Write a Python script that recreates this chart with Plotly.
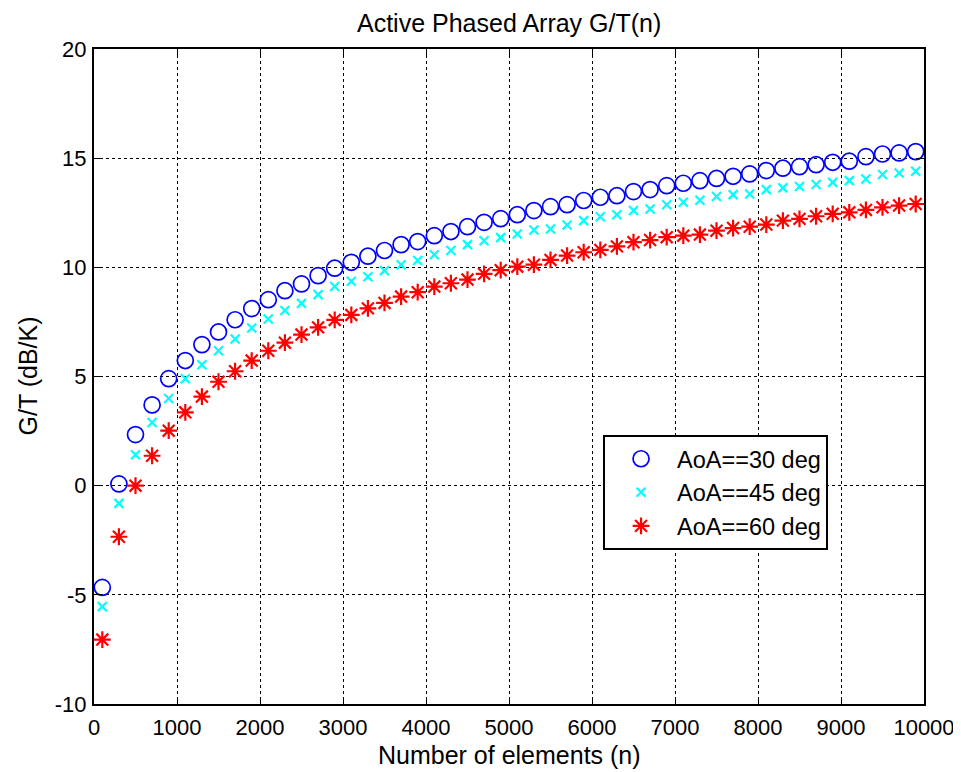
import plotly.graph_objects as go

n_elements = list(range(100, 10000, 200))

gt_aoa30 = [-4.66, 0.08, 2.34, 3.70, 4.90, 5.73, 6.46, 7.04, 7.60, 8.11,
            8.52, 8.93, 9.24, 9.62, 9.96, 10.23, 10.51, 10.77, 11.04, 11.18,
            11.45, 11.64, 11.86, 12.06, 12.23, 12.41, 12.60, 12.78, 12.87, 13.06,
            13.21, 13.28, 13.47, 13.56, 13.74, 13.85, 13.97, 14.07, 14.17, 14.28,
            14.43, 14.54, 14.61, 14.70, 14.81, 14.86, 15.07, 15.19, 15.24, 15.30]

gt_aoa45 = [-5.54, -0.81, 1.42, 2.89, 3.99, 4.90, 5.54, 6.18, 6.72, 7.22,
            7.63, 8.02, 8.35, 8.75, 9.12, 9.36, 9.57, 9.85, 10.12, 10.31,
            10.58, 10.77, 11.04, 11.22, 11.36, 11.53, 11.71, 11.76, 11.94, 12.14,
            12.32, 12.41, 12.60, 12.67, 12.87, 12.98, 13.07, 13.24, 13.33, 13.36,
            13.56, 13.64, 13.70, 13.79, 13.89, 13.97, 14.05, 14.25, 14.32, 14.40]

gt_aoa60 = [-7.05, -2.34, 0.00, 1.37, 2.52, 3.36, 4.08, 4.76, 5.24, 5.73,
            6.18, 6.55, 6.92, 7.25, 7.59, 7.82, 8.12, 8.37, 8.66, 8.86,
            9.12, 9.27, 9.44, 9.70, 9.87, 10.03, 10.12, 10.34, 10.54, 10.69,
            10.80, 10.96, 11.15, 11.25, 11.38, 11.45, 11.50, 11.68, 11.80, 11.86,
            11.96, 12.14, 12.22, 12.34, 12.45, 12.52, 12.63, 12.75, 12.83, 12.90]

series_names = ["AoA==30 deg", "AoA==45 deg", "AoA==60 deg"]

x_ticks = list(range(0, 10001, 1000))
y_ticks = list(range(-10, 21, 5))

FONT = "Liberation Sans, Arial, sans-serif"
FS_TICK = 22
FS_TEXT = 25
FS_LEG = 23.5

fig = go.Figure()
fig.add_trace(go.Scatter(
    x=n_elements, y=gt_aoa30, mode="markers", name=series_names[0],
    marker=dict(symbol="circle-open", size=16, color="#0000ff",
                line=dict(width=1.7, color="#0000ff"))))
fig.add_trace(go.Scatter(
    x=n_elements, y=gt_aoa45, mode="markers", name=series_names[1],
    marker=dict(symbol="x-thin-open", size=9, color="#00ffff",
                line=dict(width=2.2, color="#00ffff"))))
fig.add_trace(go.Scatter(
    x=n_elements, y=gt_aoa60, mode="markers", name=series_names[2],
    marker=dict(symbol="asterisk-open", size=14, color="#ff0000",
                line=dict(width=2.2, color="#ff0000"))))

axis_common = dict(
    showgrid=True, gridcolor="black", griddash="dot", gridwidth=1.3,
    showline=True, linecolor="black", linewidth=2, mirror="ticks",
    ticks="inside", ticklen=7, tickcolor="black", tickwidth=1,
    zeroline=False, tickfont=dict(family=FONT, size=FS_TICK, color="black"),
)

fig.update_layout(
    width=953, height=764,
    margin=dict(l=86, r=37, t=41, b=68, autoexpand=False),
    paper_bgcolor="white", plot_bgcolor="white",
    font=dict(family=FONT, size=FS_TICK, color="black"),
    xaxis=dict(range=[0, 10000], tickvals=x_ticks,
               ticktext=[str(v) for v in x_ticks], ticklabelstandoff=3,
               **axis_common),
    yaxis=dict(range=[-10, 20], tickvals=y_ticks,
               ticktext=[str(v) for v in y_ticks], ticklabelstandoff=1,
               **axis_common),
    legend=dict(x=0.6133, y=0.4107, xanchor="left", yanchor="top",
                bgcolor="white", bordercolor="black", borderwidth=2,
                font=dict(family=FONT, size=FS_LEG, color="black"),
                itemwidth=62),
    showlegend=True,
    annotations=[
        dict(text="Active Phased Array G/T(n)", xref="paper", yref="paper",
             x=0.5, y=1, yanchor="bottom", yshift=10, showarrow=False,
             font=dict(family=FONT, size=FS_TEXT, color="black")),
        dict(text="Number of elements (n)", xref="paper", yref="paper",
             x=0.5, y=0, yanchor="top", yshift=-35, showarrow=False,
             font=dict(family=FONT, size=FS_TEXT, color="black")),
        dict(text="G/T (dB/K)", xref="paper", yref="paper",
             x=0, y=0.5, xanchor="center", xshift=-67, textangle=-90,
             showarrow=False,
             font=dict(family=FONT, size=FS_TEXT, color="black")),
    ],
)

fig.write_html("out.html")
